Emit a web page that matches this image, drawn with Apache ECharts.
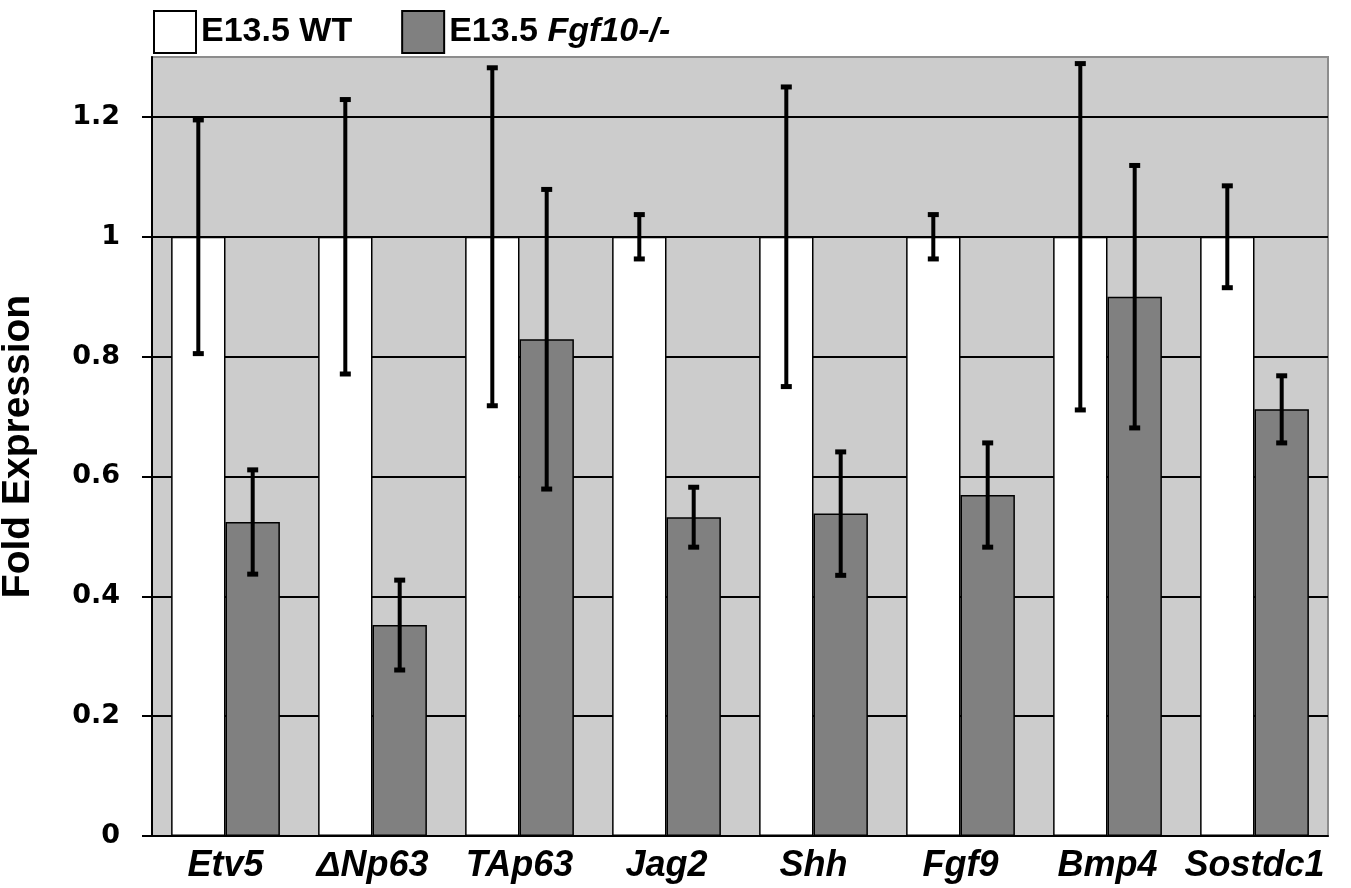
<!DOCTYPE html>
<html>
<head>
<meta charset="utf-8">
<script src="https://cdn.jsdelivr.net/npm/echarts@6/dist/echarts.min.js"></script>
<style>
  html, body { margin: 0; padding: 0; background: #fff; }
  #main { width: 1351px; height: 888px; }
</style>
</head>
<body>
<div id="main"></div>
<script>
// genes on the x axis
var genes = ['Etv5', '\u0394Np63', 'TAp63', 'Jag2', 'Shh', 'Fgf9', 'Bmp4', 'Sostdc1'];

// wild type (normalised to 1) and knockout fold expression
var wtValues = [1, 1, 1, 1, 1, 1, 1, 1];
var koValues = [0.524, 0.352, 0.829, 0.532, 0.538, 0.569, 0.900, 0.712];

// error bar half widths
var wtErr = [0.195, 0.229, 0.282, 0.037, 0.250, 0.037, 0.289, 0.085];
var koErr = [0.087, 0.075, 0.250, 0.050, 0.103, 0.087, 0.219, 0.056];

var yTicks = [0, 0.2, 0.4, 0.6, 0.8, 1, 1.2];

var BAR_W = 0.37; // share of the category band per bar

function errData(vals, errs) {
  return vals.map(function (v, i) {
    return [i, v - errs[i], v + errs[i]];
  });
}

function errRender(sign) {
  return function (params, api) {
    var idx = api.value(0);
    var lo = api.coord([idx, api.value(1)]);
    var hi = api.coord([idx, api.value(2)]);
    var band = api.size([1, 0])[0];
    var x = lo[0] + sign * band * BAR_W / 2;
    var cap = 5.5;
    var st = { stroke: '#000', lineWidth: 4 };
    return {
      type: 'group',
      children: [
        { type: 'line', shape: { x1: x, y1: hi[1], x2: x, y2: lo[1] }, style: st },
        { type: 'line', shape: { x1: x - cap, y1: hi[1], x2: x + cap, y2: hi[1] }, style: { stroke: '#000', lineWidth: 5 } },
        { type: 'line', shape: { x1: x - cap, y1: lo[1], x2: x + cap, y2: lo[1] }, style: { stroke: '#000', lineWidth: 5 } }
      ]
    };
  };
}

var chart = echarts.init(document.getElementById('main'));

var option = {
  animation: false,
  legend: {
    left: 148,
    top: 5,
    itemWidth: 42,
    itemHeight: 42,
    itemGap: 49,
    icon: 'rect',
    data: ['E13.5 WT', 'E13.5 Fgf10-/-'],
    formatter: function (name) {
      if (name === 'E13.5 Fgf10-/-') return 'E13.5 {i|Fgf10-/-}';
      return name;
    },
    textStyle: {
      fontFamily: 'Liberation Sans',
      fontWeight: 'bold',
      fontSize: 34,
      color: '#000',
      rich: {
        i: {
          fontFamily: 'Liberation Sans',
          fontWeight: 'bold',
          fontStyle: 'italic',
          fontSize: 34,
          color: '#000'
        }
      }
    }
  },
  grid: {
    left: 152,
    right: 23,
    top: 57,
    bottom: 52,
    outerBoundsMode: 'none',
    containLabel: false,
    show: true,
    backgroundColor: '#cccccc',
    borderColor: '#8c8c8c',
    borderWidth: 2
  },
  xAxis: {
    type: 'category',
    data: genes,
    axisLine: { lineStyle: { color: '#000', width: 2 } },
    axisTick: { interval: 0, length: 10, lineStyle: { color: '#000', width: 2 } },
    axisLabel: {
      interval: 0,
      hideOverlap: false,
      margin: 12,
      color: '#000',
      fontFamily: 'Liberation Sans',
      fontWeight: 'bold',
      fontStyle: 'italic',
      fontSize: 36
    }
  },
  yAxis: {
    type: 'value',
    min: 0,
    max: 1.3,
    interval: 0.2,
    name: 'Fold Expression',
    nameLocation: 'middle',
    nameGap: 114,
    nameTextStyle: {
      fontFamily: 'Liberation Sans',
      fontWeight: 'bold',
      fontSize: 39,
      color: '#000'
    },
    axisLine: { show: true, lineStyle: { color: '#000', width: 2 } },
    axisTick: { show: true, length: 10, lineStyle: { color: '#000', width: 2 } },
    splitLine: { show: true, showMaxLine: false, lineStyle: { color: '#000', width: 2 } },
    axisLabel: {
      margin: 32,
      showMaxLabel: false,
      color: '#000',
      fontFamily: 'DejaVu Sans',
      fontWeight: 'bold',
      fontSize: 27,
      formatter: function (v) {
        return yTicks.indexOf(Math.round(v * 10) / 10) >= 0 ? String(Math.round(v * 10) / 10) : '';
      }
    }
  },
  series: [
    {
      name: 'E13.5 WT',
      type: 'bar',
      data: wtValues,
      barWidth: '37%',
      barGap: '0%',
      itemStyle: { color: '#ffffff', borderColor: '#000', borderWidth: 1.5 }
    },
    {
      name: 'E13.5 Fgf10-/-',
      type: 'bar',
      data: koValues,
      barWidth: '37%',
      barGap: '0%',
      itemStyle: { color: '#808080', borderColor: '#000', borderWidth: 1.5 }
    },
    {
      type: 'custom',
      name: 'wtErr',
      renderItem: errRender(-1),
      data: errData(wtValues, wtErr),
      encode: { x: 0, y: [1, 2] },
      z: 10
    },
    {
      type: 'custom',
      name: 'koErr',
      renderItem: errRender(1),
      data: errData(koValues, koErr),
      encode: { x: 0, y: [1, 2] },
      z: 10
    }
  ]
};

chart.setOption(option);
</script>
</body>
</html>
